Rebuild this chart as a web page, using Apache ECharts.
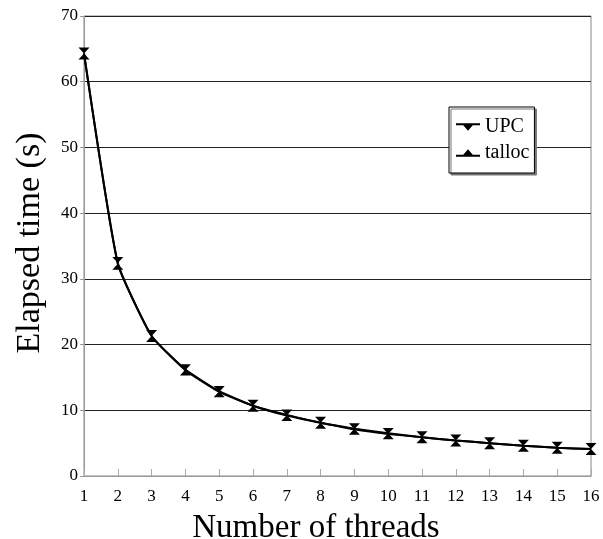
<!DOCTYPE html>
<html>
<head>
<meta charset="utf-8">
<script src="https://cdn.jsdelivr.net/npm/echarts@6/dist/echarts.min.js"></script>
<style>
  html, body { margin: 0; padding: 0; background: #fff; }
  #chart { width: 603px; height: 539px; }
</style>
</head>
<body>
<div id="chart"></div>
<script>
// threads 1..16
var threads = [1, 2, 3, 4, 5, 6, 7, 8, 9, 10, 11, 12, 13, 14, 15, 16];
var upcTime = [64.3, 32.4, 21.3, 16.1, 12.8, 10.7, 9.2, 8.1, 7.1, 6.4, 5.9, 5.4, 5.0, 4.6, 4.3, 4.1];
var tallocTime = [64.3, 32.3, 21.3, 16.2, 12.9, 10.7, 9.3, 8.1, 7.2, 6.5, 5.9, 5.4, 5.0, 4.6, 4.3, 4.1];

function pairs(ys) {
	return threads.map(function(x, i) { return [x, ys[i]]; });
}

var font = '"Liberation Serif", "Times New Roman", serif';
var downTri = 'path://M0,0L10,0L5,6Z';
var upTri = 'path://M5,0L10,6L0,6Z';

var chart = echarts.init(document.getElementById('chart'));
chart.setOption({
	animation: false,
	backgroundColor: '#fff',
	grid: {
		left: 84,
		right: 12,
		top: 16,
		bottom: 63,
		outerBoundsMode: 'none',
		containLabel: false,
		show: true,
		borderColor: '#888',
		borderWidth: 1,
		backgroundColor: 'transparent'
	},
	legend: {
		orient: 'vertical',
		left: 449,
		top: 107,
		backgroundColor: '#fff',
		borderColor: '#000',
		borderWidth: 1,
		shadowColor: '#777',
		shadowOffsetX: 2,
		shadowOffsetY: 2,
		shadowBlur: 0,
		padding: [10, 5, 10, 7],
		itemGap: 6,
		itemWidth: 24,
		itemHeight: 11,
		textStyle: { fontFamily: font, fontSize: 20, color: '#000' },
		data: [
			{ name: 'UPC', icon: 'path://M0,0L22,0L22,2L0,2Z M5,0L17,0L11,7Z' },
			{ name: 'talloc', icon: 'path://M11,0L17,7L5,7Z M0,5L22,5L22,7L0,7Z' }
		]
	},
	xAxis: {
		type: 'value',
		min: 1,
		max: 16,
		interval: 1,
		name: 'Number of threads',
		nameLocation: 'middle',
		nameGap: 36,
		nameTextStyle: { fontFamily: font, fontSize: 33, color: '#000', padding: [0, 43, 0, 0] },
		axisLine: { show: true, lineStyle: { color: '#999', width: 1 } },
		axisTick: { show: true, inside: true, length: 7, lineStyle: { color: '#aaa' } },
		axisLabel: { fontFamily: font, fontSize: 17, color: '#000', margin: 12 },
		splitLine: { show: false }
	},
	yAxis: {
		type: 'value',
		min: 0,
		max: 70,
		interval: 10,
		name: 'Elapsed time (s)',
		nameLocation: 'middle',
		nameGap: 37,
		nameTextStyle: { fontFamily: font, fontSize: 34, color: '#000', padding: [0, 0, 0, 6] },
		axisLine: { show: true, lineStyle: { color: '#999', width: 1 } },
		axisTick: { show: true, length: 4, lineStyle: { color: '#999' } },
		axisLabel: { fontFamily: font, fontSize: 17, color: '#000', margin: 6 },
		splitLine: { show: true, lineStyle: { color: '#222', width: 1 } }
	},
	series: [{
		name: 'UPC',
		type: 'line',
		smooth: 0.15,
		data: pairs(upcTime),
		symbol: downTri,
		symbolSize: [11, 6],
		symbolOffset: [0, -3],
		symbolKeepAspect: false,
		lineStyle: { color: '#000', width: 2 },
		itemStyle: { color: '#000' },
		z: 3
	}, {
		name: 'talloc',
		type: 'line',
		smooth: 0.15,
		data: pairs(tallocTime),
		symbol: upTri,
		symbolSize: [11, 6],
		symbolOffset: [0, 3],
		symbolKeepAspect: false,
		lineStyle: { color: '#000', width: 2 },
		itemStyle: { color: '#000' },
		z: 3
	}]
});
</script>
</body>
</html>
